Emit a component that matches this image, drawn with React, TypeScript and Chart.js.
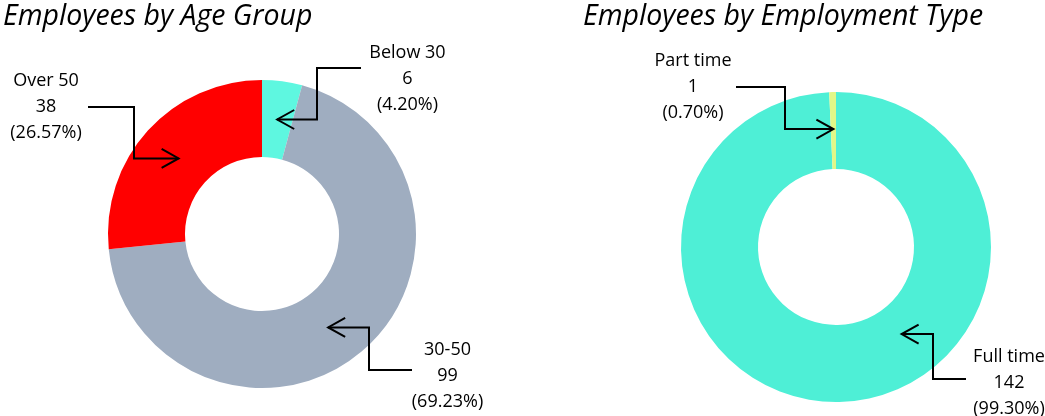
import React, { useEffect, useRef } from "react";
import { Chart, registerables } from "chart.js";

Chart.register(...registerables);

const ageLabels = ["Below 30", "30-50", "Over 50"];
const ageValues = [6, 99, 38];
const ageColors = ["#5EF7E0", "#9FADC0", "#FF0000"];

const typeLabels = ["Full time", "Part time"];
const typeValues = [142, 1];
const typeColors = ["#4EEFD6", "#E2F788"];

const LABEL_FONT = "18px 'Open Sans', sans-serif";
const TITLE_FONT = "italic 28.5px 'Open Sans', sans-serif";

type Callout = {
  index: number;
  tipFrac: number;
  rOff: number;
  textDx: number;
  textDy: number;
  startDx: number;
  startDy: number;
  bendDx: number;
};

const ageCallouts: Callout[] = [
  { index: 0, tipFrac: 0.5, rOff: 0, textDx: 145.5, textDy: -181, startDx: 99, startDy: -166, bendDx: 55 },
  { index: 1, tipFrac: 0.52, rOff: -1, textDx: 185.5, textDy: 116, startDx: 150, startDy: 136, bendDx: 107 },
  { index: 2, tipFrac: 0.5, rOff: -3, textDx: -216, textDy: -153, startDx: -174, startDy: -127, bendDx: -128 },
];

const typeCallouts: Callout[] = [
  { index: 0, tipFrac: 0.4, rOff: -7.5, textDx: 173, textDy: 110, startDx: 130, startDy: 132, bendDx: 97 },
  { index: 1, tipFrac: 0.5, rOff: 1.5, textDx: -143, textDy: -186, startDx: -100, startDy: -160, bendDx: -51 },
];

function makePlugin(title: string, titleX: number, titleY: number, labels: string[], values: number[], callouts: Callout[]) {
  return {
    id: "callouts",
    afterDraw(chart: any) {
      const ctx = chart.ctx as CanvasRenderingContext2D;
      const meta = chart.getDatasetMeta(0);
      const total = values.reduce((a, b) => a + b, 0);
      ctx.save();
      ctx.fillStyle = "#000";
      ctx.font = TITLE_FONT;
      ctx.textAlign = "left";
      ctx.textBaseline = "alphabetic";
      ctx.fillText(title, titleX, titleY);

      ctx.font = LABEL_FONT;
      ctx.textAlign = "center";
      ctx.textBaseline = "middle";
      ctx.strokeStyle = "#000";
      ctx.lineWidth = 2;
      ctx.lineJoin = "miter";
      for (const c of callouts) {
        const arc = meta.data[c.index] as any;
        const p = arc.getProps(["x", "y", "startAngle", "endAngle", "innerRadius", "outerRadius"], true);
        const cx = p.x, cy = p.y;
        const ang = p.startAngle + c.tipFrac * (p.endAngle - p.startAngle);
        const r = (p.innerRadius + p.outerRadius) / 2 + c.rOff;
        const tipX = cx + r * Math.cos(ang);
        const tipY = cy + r * Math.sin(ang);
        const sx = cx + c.startDx, sy = cy + c.startDy;
        const bx = cx + c.bendDx;
        ctx.beginPath();
        ctx.moveTo(sx, sy);
        ctx.lineTo(bx, sy);
        ctx.lineTo(bx, tipY);
        ctx.lineTo(tipX, tipY);
        ctx.stroke();
        const dir = tipX > bx ? 1 : -1;
        ctx.beginPath();
        ctx.moveTo(tipX - dir * 17, tipY - 9.5);
        ctx.lineTo(tipX, tipY);
        ctx.lineTo(tipX - dir * 17, tipY + 9.5);
        ctx.stroke();

        const v = values[c.index];
        const lines = [labels[c.index], String(v), "(" + ((v / total) * 100).toFixed(2) + "%)"];
        const tx = cx + c.textDx;
        lines.forEach((t, i) => ctx.fillText(t, tx, cy + c.textDy + i * 26));
      }
      ctx.restore();
    },
  };
}

function Donut(props: {
  left: number; width: number; labels: string[]; values: number[]; colors: string[];
  padding: { left: number; right: number; top: number; bottom: number };
  radius: number; cutout: number; title: string; titleX: number; titleY: number; callouts: Callout[];
}) {
  const ref = useRef<HTMLCanvasElement>(null);
  useEffect(() => {
    const chart = new Chart(ref.current as HTMLCanvasElement, {
      type: "doughnut",
      data: {
        labels: props.labels,
        datasets: [{ data: props.values, backgroundColor: props.colors, borderWidth: 0, hoverOffset: 0 }],
      },
      options: {
        responsive: false,
        animation: false,
        devicePixelRatio: 1,
        radius: props.radius,
        cutout: props.cutout,
        layout: { padding: props.padding },
        plugins: { legend: { display: false }, tooltip: { enabled: false }, title: { display: false } },
      } as any,
      plugins: [makePlugin(props.title, props.titleX, props.titleY, props.labels, props.values, props.callouts)],
    });
    return () => chart.destroy();
  }, []);
  return (
    <canvas
      ref={ref}
      width={props.width}
      height={416}
      style={{ position: "absolute", left: props.left, top: 0, width: props.width, height: 416 }}
    />
  );
}

export default function App() {
  return (
    <div style={{ position: "fixed", left: 0, top: 0, width: 1045, height: 416, background: "#fff", overflow: "hidden" }}>
      <Donut
        left={0}
        width={520}
        labels={ageLabels}
        values={ageValues}
        colors={ageColors}
        padding={{ left: 108, right: 104, top: 80, bottom: 28 }}
        radius={154}
        cutout={77}
        title="Employees by Age Group"
        titleX={3}
        titleY={25}
        callouts={ageCallouts}
      />
      <Donut
        left={520}
        width={525}
        labels={typeLabels}
        values={typeValues}
        colors={typeColors}
        padding={{ left: 161, right: 54, top: 92, bottom: 14 }}
        radius={155}
        cutout={78}
        title="Employees by Employment Type"
        titleX={63}
        titleY={25}
        callouts={typeCallouts}
      />
    </div>
  );
}
